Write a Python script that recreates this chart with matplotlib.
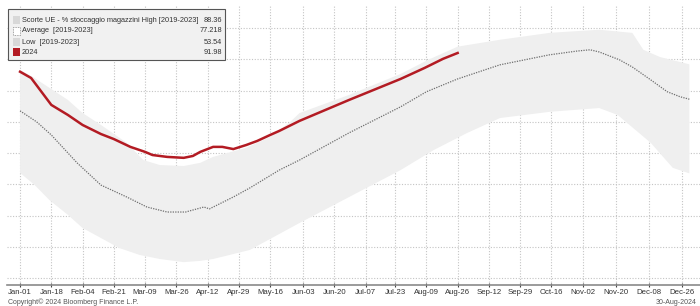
import matplotlib.pyplot as plt
from matplotlib.patches import Rectangle

plt.rcParams["font.family"] = ["Liberation Sans", "DejaVu Sans"]

# giorni dall'1 gennaio (2024) e livelli di stoccaggio in %
days_2024 = [0, 6, 17, 26, 34, 44, 51, 60, 68, 72, 80, 89, 94, 98, 105, 110,
             116, 123, 129, 136, 141, 152, 179, 207, 220, 230, 238]
vals_2024 = [86.0, 84.0, 75.4, 72.2, 69.0, 66.1, 64.5, 62.0, 60.4, 59.4, 58.8,
             58.5, 59.1, 60.4, 62.0, 62.0, 61.3, 62.6, 63.9, 65.8, 67.1, 70.3,
             77.0, 83.7, 87.2, 90.1, 91.98]

days_avg = [0, 9, 17, 31, 44, 58, 69, 80, 90, 100, 103, 116, 125, 141, 152,
            179, 207, 221, 238, 261, 288, 303, 310, 315, 326, 333, 343, 352,
            359, 364]
vals_avg = [73.5, 70.0, 65.8, 56.9, 49.8, 46.0, 42.8, 41.2, 41.2, 42.8, 42.2,
            46.0, 48.9, 54.6, 57.8, 66.5, 74.8, 79.6, 83.7, 88.2, 91.4, 92.6,
            93.0, 92.3, 89.8, 87.5, 83.4, 79.6, 78.0, 77.218]

days_high = [0, 7, 26, 34, 44, 58, 67, 76, 89, 98, 105, 123, 136, 147, 152,
             179, 207, 222, 238, 261, 288, 315, 333, 339, 348, 364]
vals_high = [86.6, 84.3, 77.0, 72.8, 69.0, 63.3, 57.8, 56.2, 55.9, 56.9, 58.8,
             61.7, 65.2, 70.0, 72.8, 78.6, 85.3, 89.8, 94.0, 96.2, 98.4, 99.4,
             98.4, 93.0, 90.7, 88.36]

days_low = [0, 8, 16, 26, 34, 44, 54, 65, 76, 89, 98, 105, 125, 152, 179, 207,
            225, 243, 261, 288, 315, 325, 343, 355, 364]
vals_low = [53.7, 49.8, 45.0, 40.3, 36.1, 32.9, 29.7, 27.5, 26.2, 25.2, 25.6,
            26.2, 29.1, 37.7, 46.0, 54.6, 61.0, 66.4, 71.2, 73.2, 74.4, 72.2,
            63.3, 55.3, 53.54]

tick_days = [0, 17, 34, 51, 68, 85, 102, 119, 136, 154, 171, 188, 204, 221,
             238, 255, 272, 289, 306, 324, 342, 360]
tick_labels = ["Jan-01", "Jan-18", "Feb-04", "Feb-21", "Mar-09", "Mar-26",
               "Apr-12", "Apr-29", "May-16", "Jun-03", "Jun-20", "Jul-07",
               "Jul-23", "Aug-09", "Aug-26", "Sep-12", "Sep-29", "Oct-16",
               "Nov-02", "Nov-20", "Dec-08", "Dec-26"]

legend_labels = ["Scorte UE - % stoccaggio magazzini High [2019-2023]",
                 "Average  [2019-2023]", "Low  [2019-2023]", "2024"]
legend_values = ["88.36", "77.218", "53.54", "91.98"]

W, H = 700, 306
fig = plt.figure(figsize=(W / 100, H / 100), dpi=100)
ax = fig.add_axes([7 / W, 21 / H, 693 / W, 280 / H])

# banda min-max
ax.fill(days_high + days_low[::-1], vals_high + vals_low[::-1],
        color="#efefef", lw=0, zorder=1)
ax.plot(days_avg, vals_avg, color="#6e6e6e", lw=0.9, ls=(0, (1, 1)), zorder=2)
ax.plot(days_2024, vals_2024, color="#b31b23", lw=1.8, zorder=3)

ax.set_xlim(-7.1, 369.8)
ax.set_ylim(17.9, 107.3)
ax.set_xticks(tick_days)
ax.set_xticklabels(tick_labels)
ax.set_yticks([20, 30, 40, 50, 60, 70, 80, 90, 100])
ax.tick_params(axis="y", left=False, labelleft=False)
ax.tick_params(axis="x", length=3, direction="inout", color="#444",
               labelsize=5.6, labelcolor="#333", pad=1.5)
ax.grid(True, ls=(0, (1, 1.5)), color="#c4c4c4", lw=0.8)
ax.set_axisbelow(True)
for s in ["top", "right", "left"]:
    ax.spines[s].set_visible(False)
ax.spines["bottom"].set_color("#8a8a8a")
ax.spines["bottom"].set_linewidth(1.2)

# legenda in stile Bloomberg
def fx(px):
    return px / W

def fy(py):
    return 1 - py / H

fig.add_artist(Rectangle((fx(8), fy(60)), fx(217), 51 / H,
                         transform=fig.transFigure, fc="#f1f1f1",
                         ec="#555555", lw=0.8))
rows = [20, 31, 42, 52]
patch_styles = [dict(fc="#d8d8d8", ec="none", lw=0),
                dict(fc="white", ec="#888", lw=0.6, ls=(0, (1, 1))),
                dict(fc="#d8d8d8", ec="none", lw=0),
                dict(fc="#b31b23", ec="none", lw=0)]
for py, lab, val, st in zip(rows, legend_labels, legend_values, patch_styles):
    fig.add_artist(Rectangle((fx(13), fy(py + 3.5)), fx(7), 7 / H,
                             transform=fig.transFigure, **st))
    fig.text(fx(22), fy(py), lab, fontsize=5.3, color="#333",
             va="center", ha="left")
    fig.text(fx(222), fy(py), val, fontsize=5.3, color="#333",
             va="center", ha="right")

fig.text(fx(8), fy(302), "Copyright\u00a9 2024 Bloomberg Finance L.P.",
         fontsize=5.0, color="#555", va="center", ha="left")
fig.text(fx(697), fy(302), "30-Aug-2024", fontsize=5.0, color="#555",
         va="center", ha="right")

fig.savefig("out.png", dpi=100)
